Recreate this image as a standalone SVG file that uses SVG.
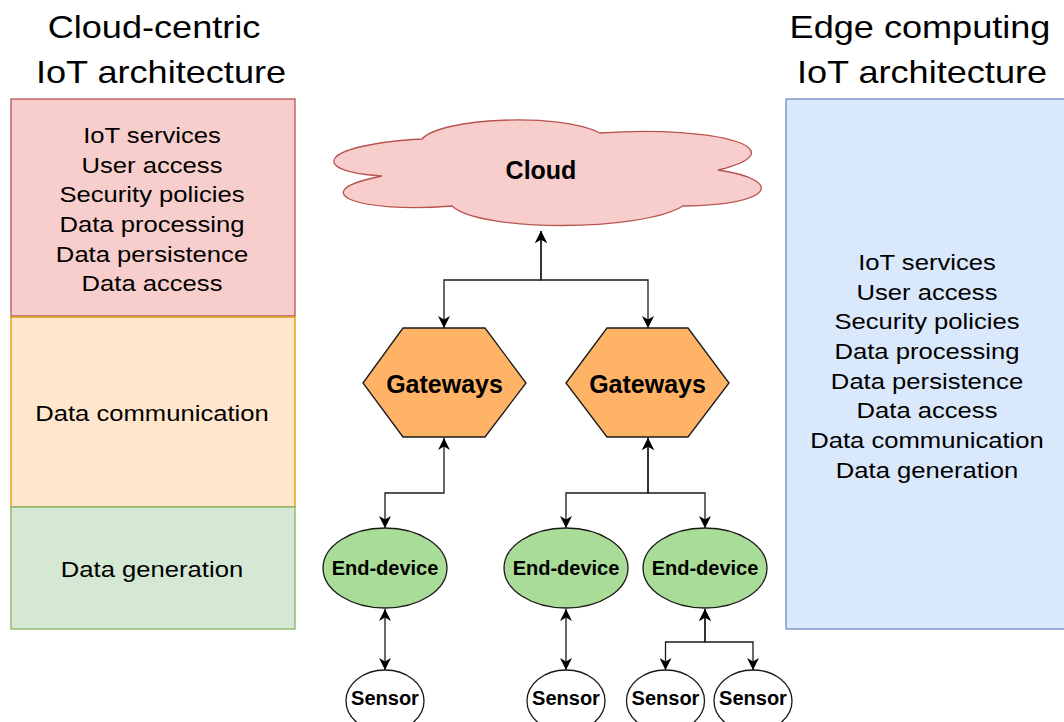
<svg xmlns="http://www.w3.org/2000/svg" width="1064" height="722" viewBox="0 0 1064 722">
  <style>
    .title { font-family: "Liberation Sans", Arial, sans-serif; font-size: 31px; fill: #000; text-anchor: middle; }
    .body { font-family: "Liberation Sans", Arial, sans-serif; font-size: 22px; fill: #000; text-anchor: middle; }
    .bold { font-family: "Liberation Sans", Arial, sans-serif; font-weight: bold; fill: #000; text-anchor: middle; }
    .gw { fill: #FFB366; stroke: #1a1a1a; stroke-width: 1.3; }
    .dev { fill: #A9DC96; stroke: #1a1a1a; stroke-width: 1.3; }
    .sensor { fill: #fff; stroke: #1a1a1a; stroke-width: 1.3; }
    .link { fill: none; stroke: #1a1a1a; stroke-width: 1.3; marker-start: url(#arrow); marker-end: url(#arrow); }
  </style>
  <defs>
    <marker id="arrow" markerUnits="userSpaceOnUse" markerWidth="13" markerHeight="12" refX="12" refY="6" orient="auto-start-reverse">
      <path d="M0,0 L12,6 L0,12 L3.5,6 Z" fill="#000"/>
    </marker>
  </defs>

  <rect width="1064" height="722" fill="#fff"/>

  <!-- Column headings -->
  <g id="title-cloud-centric">
    <g transform="translate(154 0) scale(1.165 1)"><text class="title" x="0" y="38">Cloud-centric</text></g>
    <g transform="translate(161 0) scale(1.165 1)"><text class="title" x="0" y="83">IoT architecture</text></g>
  </g>
  <g id="title-edge">
    <g transform="translate(920 0) scale(1.165 1)"><text class="title" x="0" y="38">Edge computing</text></g>
    <g transform="translate(922 0) scale(1.165 1)"><text class="title" x="0" y="83">IoT architecture</text></g>
  </g>

  <!-- Cloud-centric layer stack -->
  <g id="layer-cloud">
    <rect x="11" y="99" width="284" height="217" fill="#f8cecc" stroke="#b85450" stroke-width="1.3"/>
    <g transform="translate(152 0) scale(1.165 1)">
      <text class="body" x="0" y="143">IoT services</text>
      <text class="body" x="0" y="172.7">User access</text>
      <text class="body" x="0" y="202.4">Security policies</text>
      <text class="body" x="0" y="232.1">Data processing</text>
      <text class="body" x="0" y="261.8">Data persistence</text>
      <text class="body" x="0" y="291.5">Data access</text>
    </g>
  </g>
  <g id="layer-communication">
    <rect x="11" y="317" width="284" height="190" fill="#ffe6cc" stroke="#d79b00" stroke-width="1.3"/>
    <g transform="translate(152 0) scale(1.165 1)"><text class="body" x="0" y="421.5">Data communication</text></g>
  </g>
  <g id="layer-generation">
    <rect x="11" y="507" width="284" height="122" fill="#d5e8d4" stroke="#82b366" stroke-width="1.3"/>
    <g transform="translate(152 0) scale(1.165 1)"><text class="body" x="0" y="577.5">Data generation</text></g>
  </g>

  <!-- Edge computing stack -->
  <g id="layer-edge">
    <rect x="786" y="99" width="290" height="530" fill="#dae8fc" stroke="#6c8ebf" stroke-width="1.3"/>
    <g transform="translate(927 0) scale(1.165 1)">
      <text class="body" x="0" y="270">IoT services</text>
      <text class="body" x="0" y="299.7">User access</text>
      <text class="body" x="0" y="329.4">Security policies</text>
      <text class="body" x="0" y="359.1">Data processing</text>
      <text class="body" x="0" y="388.8">Data persistence</text>
      <text class="body" x="0" y="418.5">Data access</text>
      <text class="body" x="0" y="448.2">Data communication</text>
      <text class="body" x="0" y="477.9">Data generation</text>
    </g>
  </g>

  <!-- Connectors -->
  <g id="connectors">
    <path class="link" d="M541 231 V280 H444 V328"/>
    <path class="link" d="M541 231 V280 H648 V328"/>
    <path class="link" d="M444 438 V493 H385 V528"/>
    <path class="link" d="M648 438 V493 H566 V528"/>
    <path class="link" d="M648 438 V493 H705 V528"/>
    <path class="link" d="M385 609 V670"/>
    <path class="link" d="M566 609 V670"/>
    <path class="link" d="M705 609 V642 H665.5 V670"/>
    <path class="link" d="M705 609 V642 H753 V670"/>
  </g>

  <!-- Cloud -->
  <g id="cloud">
    <path d="M382 176 C310 172 315 145 422 139 C440 118 560 112 600 133 C720 125 800 150 718 170 C785 180 775 205 683 206 C640 232 480 232 452 206 C360 214 300 192 382 176 Z" fill="#f8cecc" stroke="#b85450" stroke-width="1.3"/>
    <text class="bold" x="541" y="179" font-size="25">Cloud</text>
  </g>

  <!-- Gateways -->
  <g id="gateway-1">
    <polygon class="gw" points="363,383 403,328 485,328 526,383 485,437 403,437"/>
    <text class="bold" x="444.5" y="392.5" font-size="25">Gateways</text>
  </g>
  <g id="gateway-2">
    <polygon class="gw" points="566,383 607,328 688,328 729,383 688,437 607,437"/>
    <text class="bold" x="647.5" y="392.5" font-size="25">Gateways</text>
  </g>

  <!-- End devices -->
  <g id="end-device-1">
    <ellipse class="dev" cx="385" cy="568" rx="62" ry="40"/>
    <text class="bold" x="385" y="575" font-size="20">End-device</text>
  </g>
  <g id="end-device-2">
    <ellipse class="dev" cx="566" cy="568" rx="62" ry="40"/>
    <text class="bold" x="566" y="575" font-size="20">End-device</text>
  </g>
  <g id="end-device-3">
    <ellipse class="dev" cx="705" cy="568" rx="62" ry="40"/>
    <text class="bold" x="705" y="575" font-size="20">End-device</text>
  </g>

  <!-- Sensors -->
  <g id="sensor-1">
    <ellipse class="sensor" cx="385" cy="701" rx="39" ry="31"/>
    <text class="bold" x="385" y="705" font-size="20">Sensor</text>
  </g>
  <g id="sensor-2">
    <ellipse class="sensor" cx="566" cy="701" rx="39" ry="31"/>
    <text class="bold" x="566" y="705" font-size="20">Sensor</text>
  </g>
  <g id="sensor-3">
    <ellipse class="sensor" cx="665.5" cy="701" rx="39" ry="31"/>
    <text class="bold" x="665.5" y="705" font-size="20">Sensor</text>
  </g>
  <g id="sensor-4">
    <ellipse class="sensor" cx="753" cy="701" rx="39" ry="31"/>
    <text class="bold" x="753" y="705" font-size="20">Sensor</text>
  </g>
</svg>
